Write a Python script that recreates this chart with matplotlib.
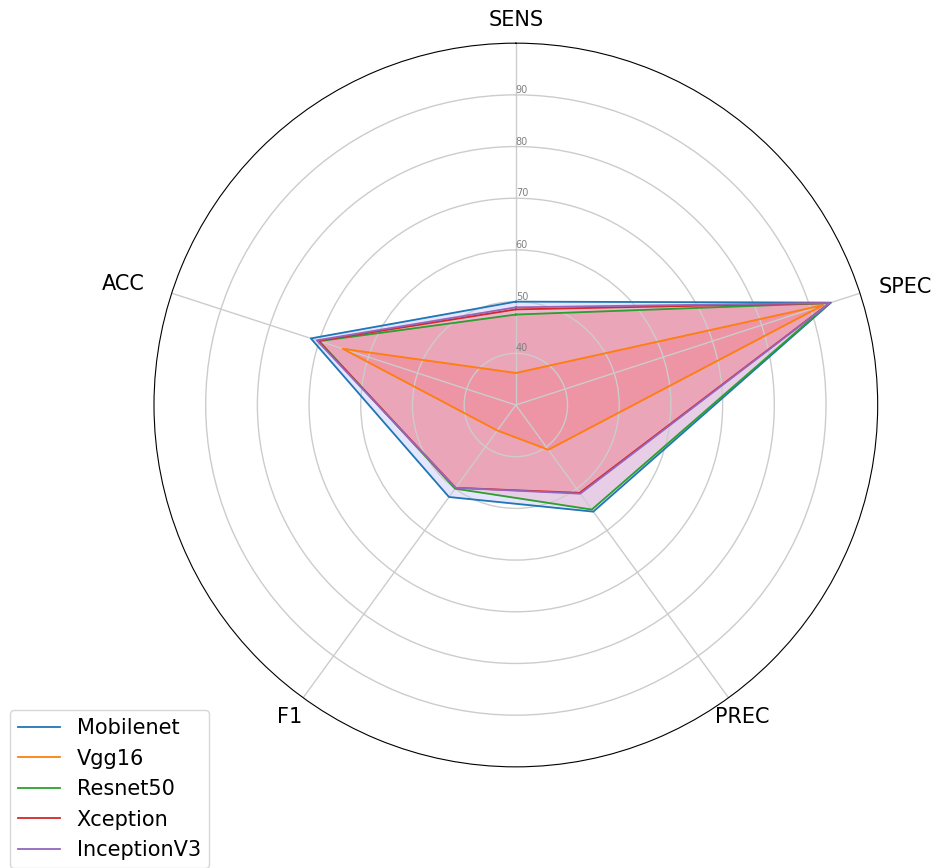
import numpy as np
import matplotlib
matplotlib.use("Agg")
from matplotlib import pyplot as plt

# metrics around the radar, clockwise from the top
categories = ["SENS", "SPEC", "PREC", "F1", "ACC"]

models = ["Mobilenet", "Vgg16", "Resnet50", "Xception", "InceptionV3"]
mobilenet = [50.0, 94.1, 55.5, 52.0, 71.7]
vgg16 = [36.2, 92.5, 40.7, 36.1, 65.2]
resnet50 = [47.5, 93.8, 55.0, 50.0, 70.0]
xception = [48.5, 93.8, 51.0, 49.8, 70.2]
inceptionv3 = [48.9, 93.9, 51.2, 49.8, 70.5]
scores = [mobilenet, vgg16, resnet50, xception, inceptionv3]

line_colors = ["tab:blue", "tab:orange", "tab:green", "tab:red", "tab:purple"]
fill_colors = ["blue", "red", "red", "red", "red"]

r_ticks = [40, 50, 60, 70, 80, 90]

# close the polygon
angles = np.linspace(0, 2 * np.pi, len(categories), endpoint=False).tolist()
angles += angles[:1]

fig = plt.figure(figsize=(9.35, 8.68), dpi=100)
ax = fig.add_axes([0.1647, 0.1164, 0.774, 0.834], polar=True)
ax.set_theta_offset(np.pi / 2)
ax.set_theta_direction(-1)

for name, vals, lc, fc in zip(models, scores, line_colors, fill_colors):
    v = vals + vals[:1]
    ax.plot(angles, v, color=lc, linewidth=1.3, label=name)
    ax.fill(angles, v, color=fc, alpha=0.1)

ax.set_ylim(30, 100)
ax.set_xticks(angles[:-1])
ax.set_xticklabels([])
# category names placed by hand just outside the outer circle
label_r = [104.5, 103.7, 104.6, 104.6, 105.5]
aligns = ["center", "left", "center", "center", "right"]
for ang, cat, r, ha in zip(angles[:-1], categories, label_r, aligns):
    ax.text(ang, r, cat, fontsize=15, ha=ha, va="center", clip_on=False)

ax.set_yticks(r_ticks)
ax.set_yticklabels([str(t) for t in r_ticks], fontsize=7, color="gray")
ax.set_rlabel_position(0)
for lbl in ax.get_yticklabels():
    lbl.set_horizontalalignment("left")
ax.grid(color="#cccccc", linewidth=1)

ax.legend(loc="upper left", bbox_to_anchor=(0.0107, 0.182),
          bbox_transform=fig.transFigure, borderaxespad=0, fontsize=15)

fig.savefig("out.png", dpi=100)
